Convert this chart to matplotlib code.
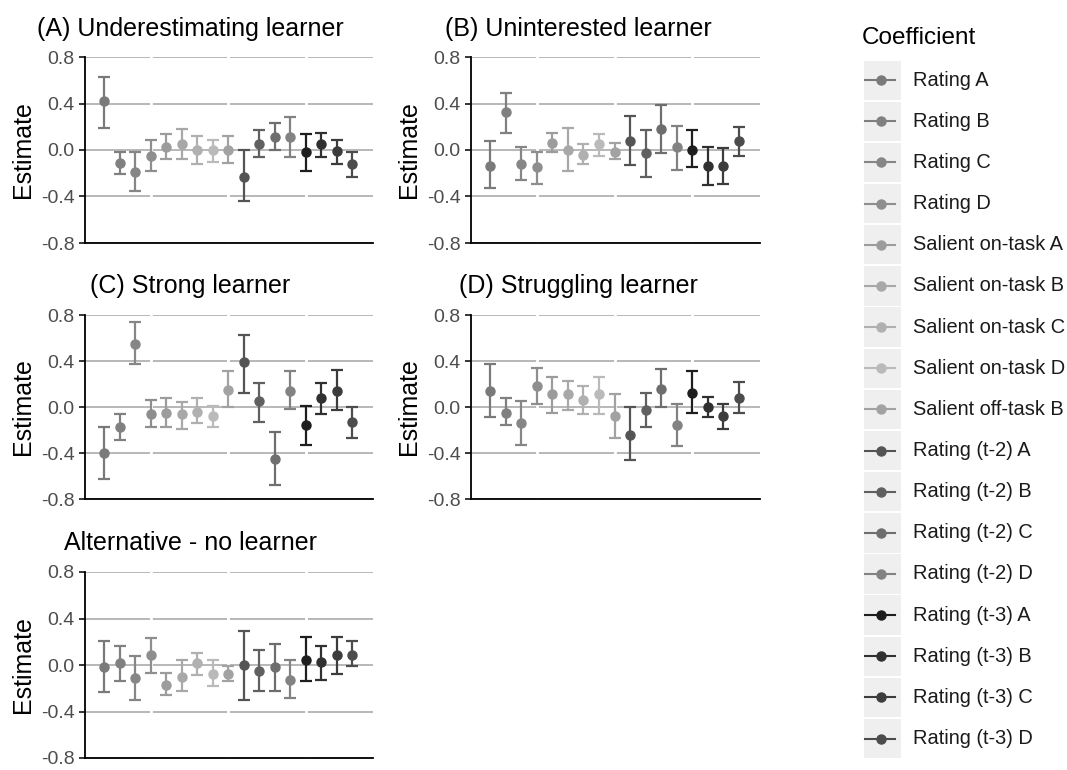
import numpy as np
import matplotlib
matplotlib.use("Agg")
import matplotlib.pyplot as plt
from matplotlib.patches import Rectangle
from matplotlib.lines import Line2D

plt.rcParams['font.family'] = ['Liberation Sans', 'DejaVu Sans']
plt.rcParams['axes.unicode_minus'] = False

coefficients = ["Rating A", "Rating B", "Rating C", "Rating D",
                "Salient on-task A", "Salient on-task B", "Salient on-task C",
                "Salient on-task D", "Salient off-task B",
                "Rating (t-2) A", "Rating (t-2) B", "Rating (t-2) C", "Rating (t-2) D",
                "Rating (t-3) A", "Rating (t-3) B", "Rating (t-3) C", "Rating (t-3) D"]
coef_colors = ["#7a7a7a", "#808080", "#868686", "#8e8e8e",
               "#9c9c9c", "#a8a8a8", "#b0b0b0", "#bababa", "#a2a2a2",
               "#545454", "#606060", "#6e6e6e", "#828282",
               "#1e1e1e", "#303030", "#3c3c3c", "#4c4c4c"]

panel_titles = ["(A) Underestimating learner", "(B) Uninterested learner",
                "(C) Strong learner", "(D) Struggling learner",
                "Alternative - no learner"]

est_A = [0.42, -0.11, -0.19, -0.05, 0.03, 0.05, 0.00, 0.00, 0.00,
         -0.23, 0.05, 0.11, 0.11, -0.02, 0.05, -0.01, -0.12]
lo_A = [0.19, -0.21, -0.35, -0.18, -0.08, -0.08, -0.12, -0.10, -0.11,
        -0.44, -0.06, 0.00, -0.06, -0.18, -0.06, -0.12, -0.23]
hi_A = [0.63, -0.02, -0.02, 0.09, 0.14, 0.18, 0.12, 0.09, 0.12,
        0.00, 0.17, 0.23, 0.28, 0.14, 0.15, 0.09, -0.02]

est_B = [-0.14, 0.33, -0.12, -0.15, 0.06, 0.00, -0.04, 0.05, -0.02,
         0.08, -0.03, 0.18, 0.03, 0.00, -0.14, -0.14, 0.08]
lo_B = [-0.33, 0.15, -0.26, -0.29, -0.02, -0.18, -0.12, -0.05, -0.08,
        -0.13, -0.23, -0.03, -0.17, -0.15, -0.30, -0.29, -0.05]
hi_B = [0.08, 0.49, 0.03, -0.02, 0.15, 0.19, 0.05, 0.14, 0.06,
        0.29, 0.17, 0.39, 0.21, 0.17, 0.03, 0.02, 0.20]

est_C = [-0.40, -0.17, 0.55, -0.06, -0.05, -0.06, -0.04, -0.08, 0.15,
         0.39, 0.05, -0.45, 0.14, -0.16, 0.08, 0.14, -0.13]
lo_C = [-0.63, -0.29, 0.37, -0.17, -0.17, -0.19, -0.14, -0.17, 0.00,
        0.12, -0.13, -0.68, -0.02, -0.33, -0.06, -0.03, -0.27]
hi_C = [-0.17, -0.06, 0.74, 0.06, 0.08, 0.04, 0.08, 0.01, 0.31,
        0.63, 0.21, -0.22, 0.31, 0.01, 0.21, 0.32, 0.00]

est_D = [0.14, -0.05, -0.14, 0.18, 0.11, 0.11, 0.06, 0.11, -0.08,
         -0.24, -0.03, 0.16, -0.16, 0.12, 0.00, -0.08, 0.08]
lo_D = [-0.09, -0.16, -0.33, 0.03, -0.05, -0.03, -0.06, -0.06, -0.27,
        -0.46, -0.17, 0.00, -0.34, -0.05, -0.09, -0.19, -0.05]
hi_D = [0.37, 0.08, 0.05, 0.34, 0.26, 0.23, 0.18, 0.26, 0.11,
        0.00, 0.12, 0.33, 0.03, 0.31, 0.09, 0.03, 0.22]

est_E = [-0.02, 0.02, -0.11, 0.09, -0.17, -0.10, 0.02, -0.08, -0.08,
         0.00, -0.05, -0.02, -0.13, 0.04, 0.03, 0.09, 0.09]
lo_E = [-0.23, -0.14, -0.30, -0.07, -0.26, -0.22, -0.09, -0.18, -0.14,
        -0.30, -0.22, -0.22, -0.28, -0.14, -0.13, -0.08, -0.01]
hi_E = [0.21, 0.16, 0.08, 0.23, -0.07, 0.04, 0.10, 0.04, -0.01,
        0.29, 0.13, 0.18, 0.04, 0.24, 0.16, 0.24, 0.21]

panels = [(est_A, lo_A, hi_A), (est_B, lo_B, hi_B), (est_C, lo_C, hi_C),
          (est_D, lo_D, hi_D), (est_E, lo_E, hi_E)]

y_ticks = [-0.8, -0.4, 0.0, 0.4, 0.8]
y_ticklabels = ["-0.8", "-0.4", "0.0", "0.4", "0.8"]

W, H = 1067, 770
fig = plt.figure(figsize=(W / 100, H / 100), dpi=100)
fig.patch.set_facecolor("white")

# panel boxes in pixel coordinates: (left, top, right, bottom)
boxes = [(85, 57, 373, 243), (471, 57, 760, 243),
         (85, 315, 373, 499), (471, 315, 760, 499),
         (85, 572, 373, 758)]
title_pos = [(190, 36), (578, 36), (190, 293), (578, 293), (190, 550)]

x = np.arange(len(coefficients))
x_breaks = [-2, 3, 8, 13, 18]

for i, ((est, lo, hi), (l, t, r, b)) in enumerate(zip(panels, boxes)):
    ax = fig.add_axes([l / W, 1 - b / H, (r - l) / W, (b - t) / H])
    ax.set_xlim(-1.23, 17.35)
    ax.set_ylim(-0.8, 0.8)
    for yv in y_ticks:
        ax.axhline(yv, color="#acacac", lw=1.2, zorder=1)
    for xb in x_breaks:
        ax.axvline(xb, color="white", lw=2.0, zorder=1.5)
    est = np.array(est); lo = np.array(lo); hi = np.array(hi)
    for j in range(len(coefficients)):
        ax.errorbar(x[j], est[j], yerr=[[est[j] - lo[j]], [hi[j] - est[j]]],
                    fmt="o", color=coef_colors[j], ms=6.5, capsize=4.6,
                    elinewidth=1.6, capthick=1.6, zorder=3, clip_on=False)
    for s in ["top", "right"]:
        ax.spines[s].set_visible(False)
    for s in ["left", "bottom"]:
        ax.spines[s].set_linewidth(1.3)
        ax.spines[s].set_color("black")
        ax.spines[s].set_zorder(4)
    ax.set_xticks([])
    ax.set_yticks(y_ticks)
    ax.set_yticklabels(y_ticklabels)
    ax.tick_params(axis="y", length=4.5, width=1.1, color="black",
                   labelsize=14, labelcolor="#4d4d4d", pad=3)
    ax.set_ylabel("Estimate", fontsize=18, color="black", labelpad=4)
    ax.set_facecolor("white")
    tx, ty = title_pos[i]
    fig.text(tx / W, 1 - ty / H, panel_titles[i], fontsize=18,
             ha="center", va="baseline", color="black")

# legend
fig.text(862 / W, 1 - 38 / H, "Coefficient", fontsize=17.5, ha="left",
         va="center", color="black")
leg_ax = fig.add_axes([0, 0, 1, 1])
leg_ax.set_xlim(0, W)
leg_ax.set_ylim(H, 0)
leg_ax.axis("off")
row_top = 60.5
pitch = 41.15
for k, (name, col) in enumerate(zip(coefficients, coef_colors)):
    y0 = row_top + k * pitch
    leg_ax.add_patch(Rectangle((864, y0), 37, pitch - 1.8, facecolor="#efefef",
                               edgecolor="none"))
    yc = y0 + (pitch - 1.8) / 2
    leg_ax.add_line(Line2D([865, 895], [yc, yc], color=col, lw=1.5))
    leg_ax.plot([880.5], [yc], "o", color=col, ms=6.5)
    leg_ax.text(913, yc, name, fontsize=14.4, ha="left", va="center",
                color="#1a1a1a")

fig.savefig("out.png", dpi=100, facecolor="white")
